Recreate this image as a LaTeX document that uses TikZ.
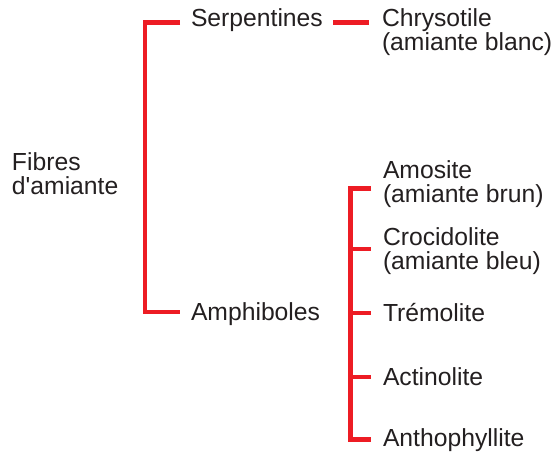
\documentclass[tikz,border=0pt]{standalone}
\usepackage{fontspec}
\setmainfont{Liberation Sans}[Ligatures=TeXOff]
\definecolor{brred}{RGB}{237,28,36}
\definecolor{txt}{RGB}{35,31,32}
\begin{document}
\begin{tikzpicture}[x=1pt,y=1pt,
  lbl/.style={inner sep=0pt,outer sep=0pt,anchor=base west,align=left,text=txt,
    font=\fontsize{24.7}{24.5}\selectfont},
  brk/.style={draw=brred,line width=4.5pt,line join=miter,line cap=butt}]
\useasboundingbox (0,0) rectangle (557,454);
% texts (multi-line nodes anchored on the baseline of their last line)
\node[lbl] (fib) at (12,259) {Fibres\\d'amiante};
\node[lbl] (ser) at (191,427) {Serpentines};
\node[lbl] (amp) at (191,133) {Amphiboles};
\node[lbl] (chr) at (382,403) {Chrysotile\\(amiante blanc)};
\node[lbl] (amo) at (383,251) {Amosite\\(amiante brun)};
\node[lbl] (cro) at (383,184) {Crocidolite\\(amiante bleu)};
\node[lbl] (tre) at (383,132) {Trémolite};
\node[lbl] (act) at (383,68) {Actinolite};
\node[lbl] (ant) at (383,7) {Anthophyllite};
% bracket coordinates
\coordinate (b1t) at (180,431.5);
\coordinate (b1b) at (180,142);
\coordinate (s1) at (333,431.5);
\coordinate (s2) at (369,431.5);
\coordinate (t1) at (371,265.5);
\coordinate (t2) at (371,205);
\coordinate (t3) at (371,141);
\coordinate (t4) at (371,77);
\coordinate (t5) at (371,14.5);
% brackets
\draw[brk] (b1t) -- (145,431.5) -- (145,142) -- (b1b);
\draw[brk] (s1) -- (s2);
\draw[brk] (t1) -- (350.5,265.5) -- (350.5,14.5) -- (t5);
\draw[brk] (350.5,205) -- (t2);
\draw[brk] (350.5,141) -- (t3);
\draw[brk] (350.5,77) -- (t4);
\end{tikzpicture}
\end{document}
